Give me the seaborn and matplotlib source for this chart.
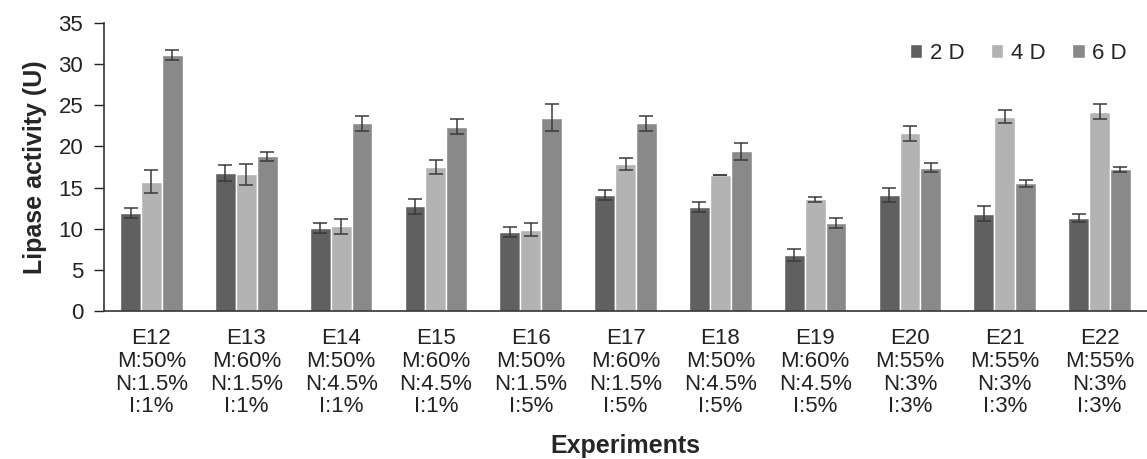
import pandas as pd
import seaborn as sns
import matplotlib.pyplot as plt

experiments = ["E12", "E13", "E14", "E15", "E16", "E17", "E18", "E19", "E20", "E21", "E22"]
conditions = [
    "M:50%\nN:1.5%\nI:1%", "M:60%\nN:1.5%\nI:1%", "M:50%\nN:4.5%\nI:1%",
    "M:60%\nN:4.5%\nI:1%", "M:50%\nN:1.5%\nI:5%", "M:60%\nN:1.5%\nI:5%",
    "M:50%\nN:4.5%\nI:5%", "M:60%\nN:4.5%\nI:5%", "M:55%\nN:3%\nI:3%",
    "M:55%\nN:3%\nI:3%", "M:55%\nN:3%\nI:3%",
]
days = ["2 D", "4 D", "6 D"]

d2 = [11.95, 16.8, 10.05, 12.7, 9.6, 14.1, 12.6, 6.8, 14.1, 11.8, 11.3]
d4 = [15.7, 16.6, 10.3, 17.5, 9.9, 17.9, 16.5, 13.6, 21.6, 23.6, 24.2]
d6 = [31.1, 18.8, 22.8, 22.4, 23.5, 22.8, 19.4, 10.7, 17.4, 15.5, 17.2]

e2 = [0.6, 1.0, 0.6, 0.9, 0.55, 0.6, 0.6, 0.7, 0.9, 0.9, 0.45]
e4 = [1.4, 1.3, 0.9, 0.9, 0.8, 0.75, 0.0, 0.3, 0.9, 0.8, 0.9]
e6 = [0.6, 0.55, 0.9, 0.9, 1.65, 0.9, 1.05, 0.6, 0.55, 0.45, 0.3]

colors = ["#606060", "#b3b3b3", "#898989"]

labels = [f"{e}\n{c}" for e, c in zip(experiments, conditions)]
df = pd.DataFrame({
    "label": labels * 3,
    "day": [d for d in days for _ in labels],
    "value": d2 + d4 + d6,
    "err": e2 + e4 + e6,
})

sns.set_style("ticks")
plt.rcParams["font.family"] = ["Liberation Sans", "DejaVu Sans"]

fig = plt.figure(figsize=(11.47, 4.59), dpi=100)
ax = fig.add_axes([0.0907, 0.3224, 0.9093, 0.6276])

sns.barplot(data=df, x="label", y="value", hue="day", palette=colors,
            width=0.66, errorbar=None, saturation=1, ax=ax)

# error bars on each bar
for cont, day in zip(ax.containers, days):
    sub = df[df["day"] == day]
    xs = [p.get_x() + p.get_width() / 2 for p in cont]
    ax.errorbar(xs, sub["value"], yerr=sub["err"], fmt="none",
                ecolor="#3a3a3a", elinewidth=1.1, capsize=5, capthick=1.1)

ax.set_xlim(-0.5, 10.5)
ax.set_ylim(0, 35)
ax.set_yticks(range(0, 36, 5))
ax.tick_params(axis="y", labelsize=16, length=7, width=1, direction="out", pad=8,
               colors="#222222")
ax.tick_params(axis="x", labelsize=16, length=0, pad=12, colors="#222222")
for lbl in ax.get_xticklabels():
    lbl.set_linespacing(1.12)

ax.set_ylabel("Lipase activity (U)", fontsize=18, fontweight="bold", labelpad=8)
ax.set_xlabel("Experiments", fontsize=18, fontweight="bold", labelpad=12)

sns.despine(ax=ax, right=True, top=True)
for s in ["left", "bottom"]:
    ax.spines[s].set_color("#333333")
    ax.spines[s].set_linewidth(1.2)

ax.legend(loc="upper right", bbox_to_anchor=(1.0, 1.0), ncol=3, frameon=False,
          fontsize=16, handlelength=0.55, handleheight=0.55, handletextpad=0.35,
          columnspacing=1.2, title=None)

fig.savefig("out.png", dpi=100)
